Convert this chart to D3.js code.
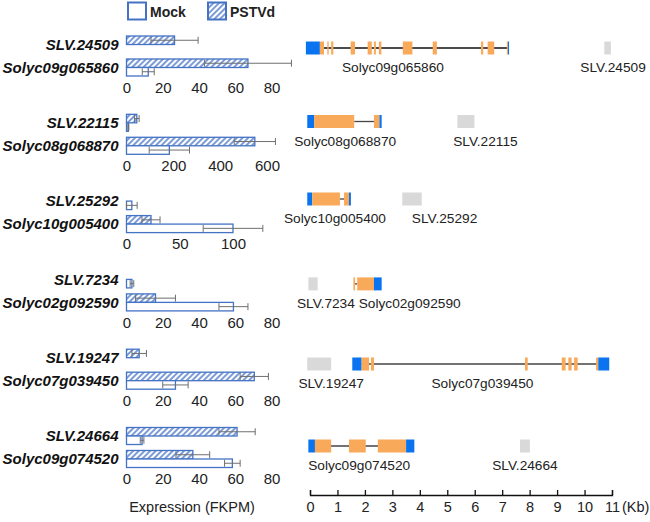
<!DOCTYPE html>
<html><head><meta charset="utf-8">
<script src="https://cdn.jsdelivr.net/npm/d3@7"></script>
<style>body{margin:0;background:#fff}svg{display:block}</style>
</head><body>
<svg id="chart" width="650" height="522"></svg>
<script>
// ---------- DATA ----------
const slvNames  = ["SLV.24509","SLV.22115","SLV.25292","SLV.7234","SLV.19247","SLV.24664"];
const geneNames = ["Solyc09g065860","Solyc08g068870","Solyc10g005400","Solyc02g092590","Solyc07g039450","Solyc09g074520"];
const conditions = ["Mock","PSTVd"];
// expression (FKPM) mean and error
const slvPSTVd     = [26.5, 44, 0, 0, 7, 61];
const slvPSTVdErr  = [13, 10, 0, 0, 4, 10];
const slvMock      = [0, 8, 5, 3, 0, 8.6];
const slvMockErr   = [0, 2, 5, 1, 0, 1];
const genePSTVd    = [67, 548, 23, 16, 70.5, 36.6];
const genePSTVdErr = [24, 88, 8.5, 11, 7.8, 9.3];
const geneMock     = [12, 183, 100, 59, 27, 58.4];
const geneMockErr  = [3.3, 86, 28, 8, 7, 4.3];
const tickValues = [[0,20,40,60,80],[0,200,400,600],[0,50,100],[0,20,40,60,80],[0,20,40,60,80],[0,20,40,60,80]];
const xTitle = "Expression (FKPM)";

// gene structures (kb): [start, end, type]
const geneFeatures = [
  [[-0.15,0.36,"UTR"],[0.36,0.51,"CDS"],[0.63,0.68,"CDS"],[0.77,0.85,"CDS"],[1.48,1.64,"CDS"],[2.10,2.25,"CDS"],[2.33,2.40,"CDS"],[2.51,2.60,"CDS"],[3.38,3.73,"CDS"],[4.47,4.62,"CDS"],[6.23,6.31,"CDS"],[6.47,6.71,"CDS"],[7.17,7.21,"CDS"],[7.21,7.25,"UTR"]],
  [[-0.10,0.15,"UTR"],[0.15,1.61,"CDS"],[2.33,2.53,"CDS"],[2.53,2.61,"UTR"]],
  [[-0.10,0.08,"UTR"],[0.08,1.09,"CDS"],[1.24,1.42,"CDS"],[1.42,1.49,"UTR"]],
  [[1.58,1.64,"CDS"],[1.72,2.33,"CDS"],[2.33,2.61,"UTR"]],
  [[1.54,1.88,"UTR"],[1.88,2.15,"CDS"],[2.22,2.33,"CDS"],[7.83,7.93,"CDS"],[9.17,9.31,"CDS"],[9.41,9.53,"CDS"],[9.62,9.75,"CDS"],[10.42,10.50,"CDS"],[10.50,10.90,"UTR"]],
  [[-0.06,0.18,"UTR"],[0.18,0.77,"CDS"],[1.42,2.03,"CDS"],[2.47,3.50,"CDS"],[3.50,3.80,"UTR"]]
];
const geneIntron = [[0.36,7.21],[1.61,2.33],[1.09,1.24],[1.64,1.72],[1.88,10.50],[0.18,3.50]];
const slvLoci = [[10.72,10.96],[5.37,5.99],[3.36,4.07],[-0.06,0.28],[-0.10,0.77],[7.65,8.01]];
const geneLabelKb = [3.02,1.28,0.91,3.63,6.28,1.79];
const slvLabelKb  = [11.04,6.39,4.90,0.58,0.77,7.83];
const kbTicks = [0,1,2,3,4,5,6,7,8,9,10,11];
const kbUnit = "(Kb)";

// ---------- LAYOUT / STYLE ----------
const FONT = "Arial, 'Liberation Sans', Helvetica, sans-serif";
const BLUE = "#4472c4", ERR = "#6f6f6f";
const UTR = "#0a74f0", CDS = "#f8a95a", LNC = "#d9d9d9";
const svg = d3.select("#chart");

const defs = svg.append("defs");
const pat = defs.append("pattern").attr("id","hatch").attr("patternUnits","userSpaceOnUse")
  .attr("width",4).attr("height",4).attr("patternTransform","rotate(45)");
pat.append("rect").attr("width",4).attr("height",4).attr("fill","#ffffff");
pat.append("line").attr("x1",1).attr("y1",0).attr("x2",1).attr("y2",4)
  .attr("stroke",BLUE).attr("stroke-width",1.4);

const panelIdx = d3.range(slvNames.length);
const panelY = d3.scalePoint().domain(panelIdx).range([87, 478.5]);   // tick label centre
const axisLen = [145, 140.5, 106.5, 145, 145, 145];
const x0 = 126.5;
const groupBand = d3.scaleBand().domain(["SLV","gene"]).range([-51,-11]).paddingInner(0.26);
const condBand = d3.scaleBand().domain(["PSTVd","Mock"]).range([0, groupBand.bandwidth()]);

// legend
const leg = svg.append("g");
[["Mock",128,"#fff"],["PSTVd",208,"url(#hatch)"]].forEach(([name,lx,fill])=>{
  leg.append("rect").attr("x",lx).attr("y",2.5).attr("width",18).attr("height",17)
    .attr("fill",fill).attr("stroke",BLUE).attr("stroke-width",2);
  leg.append("text").attr("x",lx+22).attr("y",17).attr("font-family",FONT)
    .attr("font-size",14).attr("font-weight","bold").attr("fill","#222").text(name);
});

panelIdx.forEach(p=>{
  const x = d3.scaleLinear().domain([0, d3.max(tickValues[p])]).range([x0, x0+axisLen[p]]);
  const base = panelY(p);
  const rows = [
    {g:"SLV",c:"PSTVd",v:slvPSTVd[p],e:slvPSTVdErr[p]},
    {g:"SLV",c:"Mock",v:slvMock[p],e:slvMockErr[p]},
    {g:"gene",c:"PSTVd",v:genePSTVd[p],e:genePSTVdErr[p]},
    {g:"gene",c:"Mock",v:geneMock[p],e:geneMockErr[p]}
  ];
  const gp = svg.append("g");
  const bh = condBand.bandwidth();
  rows.forEach(r=>{
    const y = base + groupBand(r.g) + condBand(r.c);
    gp.append("rect").attr("x",x(0)).attr("y",y).attr("width",x(r.v)-x(0)).attr("height",bh)
      .attr("fill", r.c==="PSTVd" ? "url(#hatch)" : "#fff")
      .attr("stroke",BLUE).attr("stroke-width",1.3);
    if (r.e>0){
      const lo = x(Math.max(0,r.v-r.e)), hi = x(r.v+r.e), cy = y+bh/2;
      gp.append("line").attr("x1",lo).attr("x2",hi).attr("y1",cy).attr("y2",cy).attr("stroke",ERR).attr("stroke-width",1);
      [lo,hi].forEach(cx=>gp.append("line").attr("x1",cx).attr("x2",cx).attr("y1",cy-3.5).attr("y2",cy+3.5).attr("stroke",ERR).attr("stroke-width",1));
    }
  });
  // axis
  const ax = svg.append("g").attr("transform",`translate(0,${base-11})`)
    .call(d3.axisBottom(x).tickValues(tickValues[p]).tickSize(0).tickPadding(6));
  ax.select(".domain").remove();
  ax.selectAll("text").attr("font-family",FONT).attr("font-size",15).attr("fill","#222");
  // category labels
  [[slvNames[p], base + groupBand("SLV") + condBand.bandwidth()],
   [geneNames[p], base + groupBand("gene") + condBand.bandwidth()]].forEach(([t,cy])=>{
    svg.append("text").attr("x",118.5).attr("y",cy+5.3).attr("text-anchor","end")
      .attr("font-family",FONT).attr("font-size",15).attr("font-weight","bold")
      .attr("font-style","italic").attr("fill","#111").text(t);
  });
});

svg.append("text").attr("x",192).attr("y",512).attr("text-anchor","middle")
  .attr("font-family",FONT).attr("font-size",14.5).attr("fill","#222").text(xTitle);

// ---------- gene structures ----------
const kb = d3.scaleLinear().domain([0,11]).range([310,612]);
const geneShift = [-39,-43.8,-44.6,-38,-36.2,-32.5];
const gh = 13;
panelIdx.forEach(p=>{
  const cy = panelY(p) + geneShift[p];
  const g = svg.append("g");
  g.append("line").attr("x1",kb(geneIntron[p][0])).attr("x2",kb(geneIntron[p][1]))
    .attr("y1",cy).attr("y2",cy).attr("stroke",p===0?"#111":"#444").attr("stroke-width",1.3);
  g.append("rect").attr("x",kb(slvLoci[p][0])).attr("y",cy-gh/2)
    .attr("width",kb(slvLoci[p][1])-kb(slvLoci[p][0])).attr("height",gh).attr("fill",LNC);
  g.selectAll("rect.f").data(geneFeatures[p]).join("rect").attr("class","f")
    .attr("x",d=>kb(d[0])).attr("y",cy-gh/2).attr("width",d=>kb(d[1])-kb(d[0])).attr("height",gh)
    .attr("fill",d=>d[2]==="UTR"?UTR:CDS);
  [[geneNames[p],geneLabelKb[p]],[slvNames[p],slvLabelKb[p]]].forEach(([t,k])=>{
    g.append("text").attr("x",kb(k)).attr("y",cy+24).attr("text-anchor","middle")
      .attr("font-family",FONT).attr("font-size",13.7).attr("fill","#222").text(t);
  });
});

// kb scale
const sc = svg.append("g").attr("transform","translate(0,495)")
  .call(d3.axisBottom(kb).tickValues(kbTicks).tickSize(-5).tickPadding(7).tickFormat(d3.format("d")));
sc.selectAll("path,line").attr("stroke","#111").attr("stroke-width",1.3);
sc.selectAll("text").attr("font-family",FONT).attr("font-size",14.5).attr("fill","#222");
svg.append("text").attr("x",kb(11)+10).attr("y",512).attr("font-family",FONT)
  .attr("font-size",14.5).attr("fill","#222").text(kbUnit);
</script>
</body></html>
